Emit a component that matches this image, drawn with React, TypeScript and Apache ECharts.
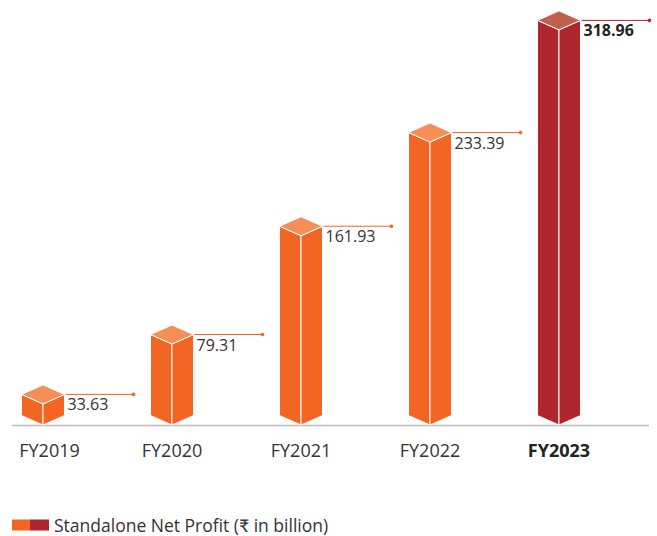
import React, { useEffect, useRef } from "react";
import * as echarts from "echarts";

const categories = ["FY2019", "FY2020", "FY2021", "FY2022", "FY2023"];
const profit = [33.63, 79.31, 161.93, 233.39, 318.96];
const seriesName = "Standalone Net Profit (₹ in billion)";

const ORANGE = "#F26522";
const ORANGE_TOP = "#F68F57";
const RED = "#B0262F";
const RED_TOP = "#C0614F";
const FONT = "'Open Sans', Lato, 'Noto Sans', sans-serif";

export default function App() {
  const ref = useRef<HTMLDivElement>(null);
  useEffect(() => {
    if (!ref.current) return;
    const chart = echarts.init(ref.current, undefined, { renderer: "svg" });
    const last = categories.length - 1;
    const HW = 21.5; // half bar width
    const D = 9.5; // half diamond height
    const LINE_LEN = 69;

    const option: any = {
      animation: false,
      grid: {
        left: -21.5,
        right: 33.5,
        top: 9.5,
        bottom: 107,
        containLabel: false,
        outerBoundsMode: "none",
      },
      xAxis: {
        type: "category",
        data: categories,
        axisLine: { show: false },
        axisTick: { show: false },
        axisLabel: {
          margin: 12,
          interval: 0,
          color: "#333",
          fontSize: 18,
          fontFamily: FONT,
          formatter: (val: string, idx: number) => {
            if (idx === 0) return `{first|${val}}`;
            if (idx === last) return `{bold|${val}}`;
            return `{norm|${val}}`;
          },
          rich: {
            first: { fontSize: 18, fontFamily: FONT, color: "#333", padding: [0, 0, 0, 13] },
            norm: { fontSize: 18, fontFamily: FONT, color: "#333" },
            bold: { fontSize: 18, fontFamily: FONT, color: "#222", fontWeight: "bold" },
          },
        },
      },
      yAxis: {
        type: "value",
        min: 0,
        max: 320,
        show: false,
        splitLine: { show: false },
      },
      legend: {
        left: 12,
        top: 516,
        padding: 0,
        itemWidth: 37,
        itemHeight: 11,
        itemGap: 10,
        icon: "rect",
        textStyle: { fontSize: 17.5, lineHeight: 17, color: "#333", fontFamily: FONT },
        data: [
          {
            name: seriesName,
            itemStyle: {
              color: {
                type: "linear",
                x: 0,
                y: 0,
                x2: 1,
                y2: 0,
                colorStops: [
                  { offset: 0, color: ORANGE },
                  { offset: 0.48, color: ORANGE },
                  { offset: 0.48, color: RED },
                  { offset: 1, color: RED },
                ],
              },
            },
          },
        ],
      },
      graphic: [
        {
          type: "line",
          shape: { x1: 12, y1: 425.5, x2: 649, y2: 425.5 },
          style: { stroke: "#BDBDBD", lineWidth: 1.5 },
          z: 0,
        },
      ],
      series: [
        {
          type: "custom",
          name: seriesName,
          itemStyle: { color: ORANGE },
          data: categories.map((_, i) => [i, profit[i]]),
          renderItem: (params: any, api: any) => {
            const i = api.value(0);
            const v = api.value(1);
            const pt = api.coord([i, v]);
            const cx = pt[0];
            const top = pt[1];
            const base = api.coord([i, 0])[1] - 4;
            const hot = params.dataIndex === last;
            const front = hot ? RED : ORANGE;
            const topC = hot ? RED_TOP : ORANGE_TOP;
            const stroke = { stroke: "#fff", lineWidth: 1 };
            const rx = cx + HW;
            return {
              type: "group",
              children: [
                {
                  type: "polygon",
                  shape: {
                    points: [
                      [cx - HW, top + D],
                      [cx, top + 2 * D],
                      [cx, base],
                      [cx - HW, base - D],
                    ],
                  },
                  style: { fill: front, ...stroke },
                },
                {
                  type: "polygon",
                  shape: {
                    points: [
                      [cx, top + 2 * D],
                      [rx, top + D],
                      [rx, base - D],
                      [cx, base],
                    ],
                  },
                  style: { fill: front, ...stroke },
                },
                {
                  type: "polygon",
                  shape: {
                    points: [
                      [cx, top],
                      [rx, top + D],
                      [cx, top + 2 * D],
                      [cx - HW, top + D],
                    ],
                  },
                  style: { fill: topC, ...stroke },
                },
                {
                  type: "line",
                  shape: { x1: rx + 1, y1: top + D, x2: rx + LINE_LEN, y2: top + D },
                  style: { stroke: front, lineWidth: 1 },
                },
                {
                  type: "circle",
                  shape: { cx: rx + LINE_LEN, cy: top + D, r: 1.8 },
                  style: { fill: front },
                },
                {
                  type: "text",
                  x: rx + 3,
                  y: top + D + 10,
                  style: {
                    text: String(profit[params.dataIndex].toFixed(2)),
                    fill: hot ? "#222" : "#333",
                    fontSize: 16,
                    fontFamily: FONT,
                    fontWeight: hot ? "bold" : "normal",
                    align: "left",
                    verticalAlign: "middle",
                  },
                },
              ],
            };
          },
        },
      ],
    };
    chart.setOption(option);
    return () => chart.dispose();
  }, []);

  return (
    <div
      ref={ref}
      style={{ position: "fixed", left: 0, top: 0, width: 657, height: 536, background: "#fff" }}
    />
  );
}
